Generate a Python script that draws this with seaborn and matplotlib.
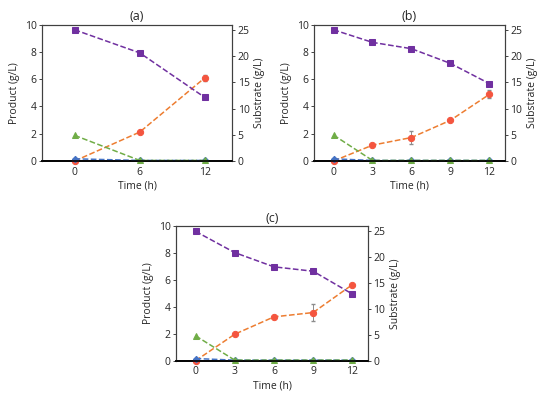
import matplotlib
matplotlib.use("Agg")
import matplotlib.pyplot as plt
import seaborn as sns
import pandas as pd

sns.set_style("white")
plt.rcParams['font.family'] = ['Open Sans', 'DejaVu Sans']

# panel data
time_a = [0, 6, 12]
product_a = [0.0, 2.12, 6.1]
product_err_a = [0.0, 0.0, 0.22]
green_a = [1.88, 0.04, 0.04]
blue_a = [0.16, 0.04, 0.04]
substrate_a = [25.0, 20.6, 12.1]

time_b = [0, 3, 6, 9, 12]
product_b = [0.0, 1.16, 1.72, 2.98, 4.88]
product_err_b = [0.0, 0.0, 0.5, 0.0, 0.3]
green_b = [1.9, 0.04, 0.04, 0.04, 0.04]
blue_b = [0.16, 0.04, 0.04, 0.04, 0.04]
substrate_b = [25.0, 22.6, 21.4, 18.6, 14.75]

time_c = [0, 3, 6, 9, 12]
product_c = [0.0, 1.97, 3.26, 3.58, 5.65]
product_err_c = [0.0, 0.0, 0.0, 0.6, 0.0]
green_c = [1.85, 0.04, 0.04, 0.04, 0.04]
blue_c = [0.16, 0.04, 0.04, 0.04, 0.04]
substrate_c = [25.0, 20.9, 18.15, 17.3, 12.9]

panels = [
    ("(a)", time_a, product_a, product_err_a, green_a, blue_a, substrate_a,
     [0.0764, 0.5965, 0.3455, 0.342], (-3, 14.5)),
    ("(b)", time_b, product_b, product_err_b, green_b, blue_b, substrate_b,
     [0.571, 0.5965, 0.347, 0.342], (-1.5, 13.2)),
    ("(c)", time_c, product_c, product_err_c, green_c, blue_c, substrate_c,
     [0.32, 0.096, 0.349, 0.337], (-1.5, 13.2)),
]

fig = plt.figure(figsize=(5.5, 3.99), dpi=100)

for title, t, prod, err, green, blue, subs, rect, xlim in panels:
    ax = fig.add_axes(rect)
    df = pd.DataFrame({"t": t, "prod": prod, "green": green, "blue": blue, "subs": subs})

    sns.lineplot(data=df, x="t", y="prod", ax=ax, color="#ED7D31", ls="--", lw=1.1,
                 marker="o", markersize=4.5, mec="#F4553F", mfc="#F4553F",
                 clip_on=False, zorder=3)
    ax.errorbar(t, prod, yerr=err, fmt="none", ecolor="#8c8c8c", elinewidth=0.7,
                capsize=1.5, zorder=2)
    sns.lineplot(data=df, x="t", y="blue", ax=ax, color="#4472C4", ls="--", lw=1.1,
                 marker="D", markersize=3.2, mec="#4472C4", mfc="#4472C4",
                 clip_on=False, zorder=4)
    sns.lineplot(data=df, x="t", y="green", ax=ax, color="#70AD47", ls="--", lw=1.1,
                 marker="^", markersize=4.5, mec="#70AD47", mfc="#70AD47",
                 clip_on=False, zorder=5)

    ax.set_xlim(*xlim)
    ax.set_ylim(0, 10)
    ax.set_xticks(t)
    ax.set_yticks([0, 2, 4, 6, 8, 10])
    ax.set_xlabel("Time (h)", fontsize=7.5, labelpad=2)
    ax.set_ylabel("Product (g/L)", fontsize=7.5, labelpad=3)
    ax.set_title(title, fontsize=9, pad=3)
    ax.tick_params(labelsize=7.5, length=2, width=0.6, direction="out", pad=2,
                   bottom=False, left=True)

    ax2 = ax.twinx()
    sns.lineplot(data=df, x="t", y="subs", ax=ax2, color="#7030A0", ls="--", lw=1.1,
                 marker="s", markersize=4.5, mec="#7030A0", mfc="#7030A0", clip_on=False)
    ax2.set_ylim(0, 26)
    ax2.set_yticks([0, 5, 10, 15, 20, 25])
    ax2.set_ylabel("Substrate (g/L)", fontsize=7.5, labelpad=3)
    ax2.tick_params(labelsize=7.5, length=2, width=0.6, direction="out", pad=2, right=True)

    for a in (ax, ax2):
        for s in a.spines.values():
            s.set_color("#404040")
            s.set_linewidth(0.8)
        a.spines["bottom"].set_linewidth(1.2)
        a.spines["bottom"].set_color("black")

fig.savefig("out.png", dpi=100)
